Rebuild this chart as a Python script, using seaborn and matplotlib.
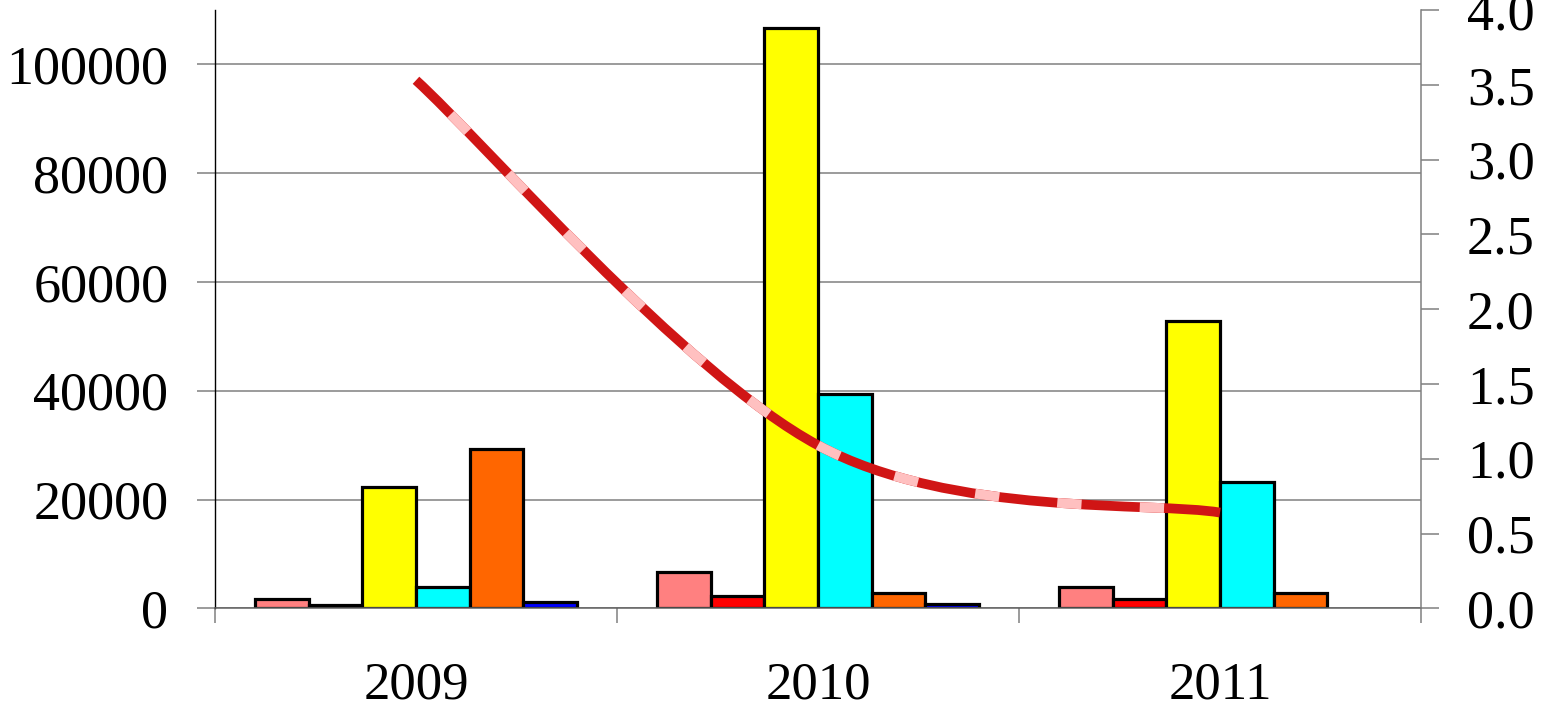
import numpy as np
import pandas as pd
import matplotlib
matplotlib.use("Agg")
import matplotlib.pyplot as plt
from matplotlib.path import Path
from matplotlib.patches import PathPatch
from matplotlib.ticker import FixedLocator, FormatStrFormatter
import seaborn as sns

# Categories and series
years = ["2009", "2010", "2011"]
series = ["S1", "S2", "S3", "S4", "S5", "S6"]
s1 = [1700, 6650, 3950]
s2 = [600, 2250, 1700]
s3 = [22300, 106600, 52850]
s4 = [3850, 39400, 23200]
s5 = [29300, 2850, 2850]
s6 = [1150, 700, np.nan]
ratio = [3.53, 1.09, 0.64]          # secondary-axis line
colors = ["#FF8080", "#FF0000", "#FFFF00", "#00FFFF", "#FF6600", "#0000FF"]

left_ticks = [0, 20000, 40000, 60000, 80000, 100000]
right_ticks = [0.0, 0.5, 1.0, 1.5, 2.0, 2.5, 3.0, 3.5, 4.0]

rows = []
for name, vals in zip(series, [s1, s2, s3, s4, s5, s6]):
    for yr, v in zip(years, vals):
        if not np.isnan(v):
            rows.append({"year": yr, "series": name, "value": v})
df = pd.DataFrame(rows)

sns.set_theme(style="ticks")
plt.rcParams["font.family"] = ["Liberation Serif", "DejaVu Serif"]
plt.rcParams["text.color"] = "black"
plt.rcParams["xtick.labelcolor"] = "black"
plt.rcParams["ytick.labelcolor"] = "black"

GRAY = "#808080"
FS = 39

fig, ax = plt.subplots(figsize=(15.5, 7.07), dpi=100)
fig.subplots_adjust(left=0.1387, right=0.9168, bottom=0.1396, top=0.9859)

sns.barplot(data=df, x="year", y="value", hue="series", order=years,
            hue_order=series, palette=colors, saturation=1, width=0.8,
            errorbar=None, edgecolor="black", linewidth=2.3, legend=False,
            ax=ax)

ax.set_xlim(-0.5, 2.5)
ax.set_ylim(0, 110000)
ax.set_yticks(left_ticks)
ax.set_yticklabels([str(t) for t in left_ticks])
ax.yaxis.grid(True, color=GRAY, lw=1.1)
ax.xaxis.grid(False)
ax.set_axisbelow(True)
ax.set_xlabel("")
ax.set_ylabel("")

ax.xaxis.set_minor_locator(FixedLocator([-0.5, 0.5, 1.5, 2.5]))
ax.tick_params(axis="x", which="major", length=0, pad=38, labelsize=38,
               labelcolor="black")
ax.tick_params(axis="x", which="minor", length=11, width=1.1, color=GRAY,
               direction="out", bottom=True)
ax.tick_params(axis="y", which="major", length=13, width=1.1, color=GRAY,
               direction="out", pad=20.5, labelsize=FS, left=True,
               labelcolor="black")

for side in ["top", "right"]:
    ax.spines[side].set_visible(False)
ax.spines["left"].set_color("black")
ax.spines["left"].set_linewidth(1.0)
ax.spines["bottom"].set_color("#606060")
ax.spines["bottom"].set_linewidth(1.1)

# Secondary axis with a smoothed line
ax2 = ax.twinx()
ax2.set_ylim(0, 4.0)
ax2.set_yticks(right_ticks)
ax2.yaxis.set_major_formatter(FormatStrFormatter("%.1f"))
ax2.tick_params(axis="y", length=13, width=1.1, color=GRAY, direction="out",
                pad=20, labelsize=FS, right=True, labelcolor="black")
for side in ["top", "left", "bottom"]:
    ax2.spines[side].set_visible(False)
ax2.spines["right"].set_color(GRAY)
ax2.spines["right"].set_linewidth(1.1)
ax2.grid(False)

pts = np.column_stack([np.arange(len(ratio), dtype=float), ratio])
verts = [pts[0]]
codes = [Path.MOVETO]
n = len(pts)
for i in range(n - 1):
    prev = pts[i - 1] if i > 0 else pts[i]
    nxt = pts[i + 2] if i + 2 < n else pts[i + 1]
    c1 = pts[i] + (pts[i + 1] - prev) / 6.0
    c2 = pts[i + 1] - (nxt - pts[i]) / 6.0
    verts += [c1, c2, pts[i + 1]]
    codes += [Path.CURVE4] * 3
curve = Path(verts, codes)

ax2.add_patch(PathPatch(curve, fill=False, edgecolor="#D01515", lw=7.0,
                        capstyle="butt", joinstyle="round", zorder=3))
ax2.add_patch(PathPatch(curve, fill=False, edgecolor="#FFC0C0", lw=7.0,
                        linestyle=(12, (2.5, 6)), capstyle="butt", zorder=4))

fig.savefig("out.png", dpi=100)
